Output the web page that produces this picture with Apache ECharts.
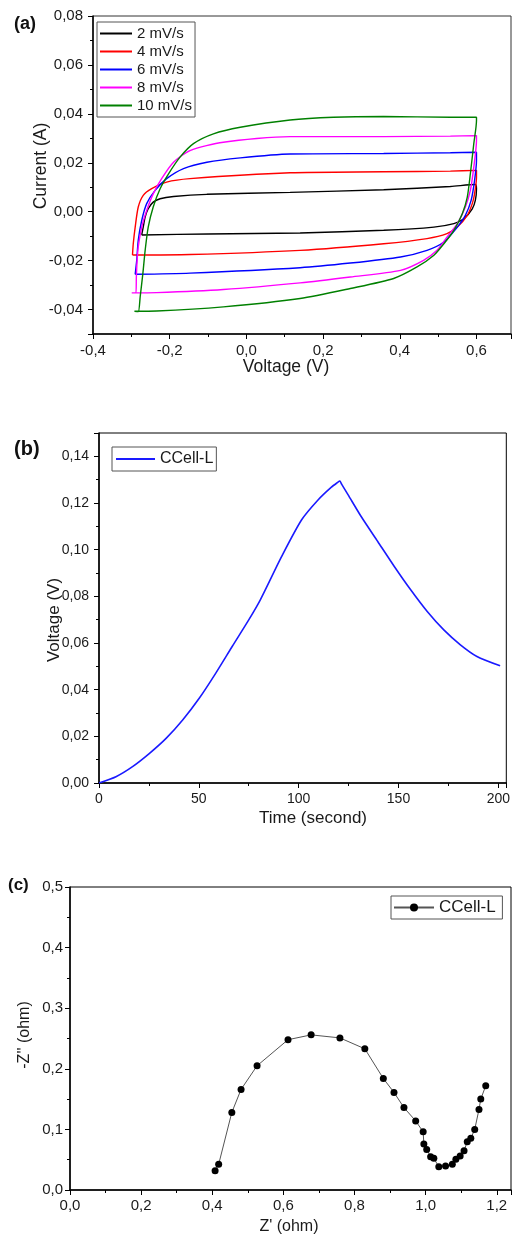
<!DOCTYPE html>
<html>
<head>
<meta charset="utf-8">
<script src="https://cdn.jsdelivr.net/npm/echarts@6/dist/echarts.min.js"></script>
<style>
html,body{margin:0;padding:0;background:#fff;}
#chart{width:513px;height:1236px;}
</style>
</head>
<body>
<div id="chart"></div>
<script>
// ---- (a) Cyclic voltammetry: voltage (V) / current (A) per scan rate ----
const cvNames = ['2 mV/s', '4 mV/s', '6 mV/s', '8 mV/s', '10 mV/s'];
const cv2V = [-0.273,-0.269,-0.264,-0.256,-0.243,-0.225,-0.190,-0.103,0.114,0.358,0.532,0.597,0.600,0.597,0.589,0.567,0.541,0.489,0.358,0.140,-0.100,-0.273];
const cv2I = [-0.0095,-0.0063,-0.0022,0.0012,0.0039,0.0053,0.0062,0.0071,0.0079,0.0090,0.0103,0.0111,0.0094,0.0046,0.0012,-0.0029,-0.0049,-0.0063,-0.0076,-0.0087,-0.0091,-0.0095];
const cv4V = [-0.297,-0.295,-0.290,-0.282,-0.269,-0.247,-0.208,-0.147,0.114,0.358,0.532,0.600,0.600,0.595,0.589,0.576,0.550,0.523,0.471,0.358,0.140,-0.147,-0.297];
const cv4I = [-0.0177,-0.0131,-0.0063,0.0019,0.0067,0.0094,0.0121,0.0135,0.0159,0.0163,0.0166,0.0169,0.0141,0.0073,0.0033,-0.0015,-0.0063,-0.0090,-0.0110,-0.0131,-0.0158,-0.0175,-0.0177];
const cv6V = [-0.290,-0.286,-0.282,-0.273,-0.260,-0.238,-0.208,-0.164,-0.103,-0.016,0.114,0.358,0.532,0.600,0.600,0.595,0.586,0.571,0.550,0.515,0.471,0.402,0.271,0.140,-0.147,-0.290];
const cv6I = [-0.0256,-0.0199,-0.0117,-0.0036,0.0033,0.0087,0.0135,0.0176,0.0202,0.0220,0.0236,0.0238,0.0241,0.0243,0.0209,0.0128,0.0046,-0.0015,-0.0063,-0.0124,-0.0158,-0.0185,-0.0210,-0.0229,-0.0251,-0.0256];
const cv8V = [-0.299,-0.288,-0.287,-0.285,-0.282,-0.273,-0.260,-0.243,-0.221,-0.190,-0.147,-0.060,0.114,0.358,0.532,0.600,0.600,0.593,0.584,0.571,0.550,0.523,0.497,0.462,0.402,0.271,0.140,-0.060,-0.234,-0.299];
const cv8I = [-0.0332,-0.0332,-0.0270,-0.0200,-0.0144,-0.0063,0.0005,0.0073,0.0135,0.0202,0.0250,0.0284,0.0307,0.0307,0.0309,0.0311,0.0291,0.0182,0.0087,0.0019,-0.0049,-0.0104,-0.0158,-0.0199,-0.0240,-0.0267,-0.0291,-0.0318,-0.0331,-0.0332];
const cv10V = [-0.292,-0.282,-0.277,-0.270,-0.264,-0.256,-0.243,-0.225,-0.203,-0.173,-0.138,-0.086,-0.016,0.114,0.227,0.358,0.532,0.600,0.600,0.593,0.584,0.576,0.563,0.541,0.515,0.489,0.445,0.384,0.271,0.140,-0.060,-0.234,-0.292];
const cv10I = [-0.0407,-0.0408,-0.0348,-0.0253,-0.0158,-0.0063,0.0019,0.0094,0.0155,0.0223,0.0278,0.0318,0.0345,0.0375,0.0386,0.0389,0.0386,0.0386,0.0373,0.0278,0.0155,0.0060,-0.0008,-0.0076,-0.0131,-0.0178,-0.0226,-0.0273,-0.0314,-0.0355,-0.0389,-0.0406,-0.0407];
const cvColors = ['#000000', '#ff0000', '#0000ff', '#ff00ff', '#008000'];

// ---- (b) Galvanostatic charge/discharge ----
const gcdName = 'CCell-L';
const gcdTime = [0, 8.5, 16.8, 25.3, 33.6, 41.9, 50.2, 58.5, 66.7, 75, 80.8, 91.5, 101.5, 109.8, 116.4, 119.5, 120.6, 121.5, 124.7, 131.3, 139.6, 147.9, 156.1, 164.4, 172.7, 181.0, 189.3, 200.9];
const gcdVolt = [0, 0.0027, 0.0070, 0.0127, 0.0191, 0.0270, 0.0363, 0.0471, 0.0585, 0.0699, 0.0785, 0.0971, 0.1128, 0.1214, 0.1268, 0.1288, 0.1294, 0.1281, 0.1236, 0.1142, 0.1035, 0.0928, 0.0828, 0.0735, 0.0656, 0.0592, 0.0542, 0.0502];

// ---- (c) Nyquist plot ----
const eisName = 'CCell-L';
const eisRe = [0.408,0.418,0.455,0.481,0.526,0.613,0.678,0.759,0.829,0.881,0.911,0.939,0.972,0.993,0.995,1.003,1.014,1.023,1.037,1.056,1.075,1.085,1.097,1.108,1.117,1.127,1.138,1.150,1.155,1.169];
const eisIm = [0.0319,0.0424,0.128,0.166,0.205,0.248,0.256,0.251,0.233,0.184,0.161,0.136,0.114,0.096,0.0758,0.0670,0.0549,0.0522,0.0384,0.0396,0.0423,0.0506,0.0560,0.0648,0.0796,0.0852,0.100,0.133,0.150,0.172];

const zip = (a, b) => a.map((v, i) => [v, b[i]]);
const cvData = [zip(cv2V, cv2I), zip(cv4V, cv4I), zip(cv6V, cv6I), zip(cv8V, cv8I), zip(cv10V, cv10I)];

const FONT = '"Liberation Sans", Arial, sans-serif';
const fmt = d => v => v.toFixed(d).replace('.', ',').replace('-0,' + '0'.repeat(d), '0,' + '0'.repeat(d));

function axis(o) {
  return Object.assign({
    type: 'value',
    splitLine: { show: false },
    axisLine: { show: true, onZero: false, lineStyle: { color: '#000', width: 1.5 } },
    axisTick: { show: true, inside: false, length: 5, lineStyle: { color: '#000', width: 1 } },
    minorTick: { show: true, splitNumber: 2, length: 3, lineStyle: { color: '#000', width: 1 } },
  }, o);
}
function lbl(d, size, margin, extra) {
  return Object.assign({ formatter: fmt(d), color: '#1a1a1a', fontSize: size, fontFamily: FONT, margin: margin }, extra || {});
}

const chart = echarts.init(document.getElementById('chart'), null, { renderer: 'canvas' });

const option = {
  backgroundColor: '#fff',
  animation: false,
  textStyle: { fontFamily: FONT },
  grid: [
    { left: 93, top: 16, width: 418, height: 318, show: true, borderColor: '#333', borderWidth: 1, containLabel: false },
    { left: 99, top: 433, width: 411, height: 350, show: true, borderColor: '#000', borderWidth: 1, containLabel: false },
    { left: 70, top: 887, width: 441, height: 303, show: true, borderColor: '#000', borderWidth: 1, containLabel: false }
  ],
  xAxis: [
    axis({ gridIndex: 0, min: -0.4, max: 0.69, minInterval: 0.2, maxInterval: 0.2,
      axisLabel: lbl(1, 15, 9, { showMaxLabel: false }) }),
    axis({ gridIndex: 1, min: 0, max: 204, minInterval: 50, maxInterval: 50,
      axisLabel: lbl(0, 14, 9, { showMaxLabel: false }) }),
    axis({ gridIndex: 2, min: 0, max: 1.24, minInterval: 0.2, maxInterval: 0.2,
      axisLabel: lbl(1, 15, 8, { showMaxLabel: false }) })
  ],
  yAxis: [
    axis({ gridIndex: 0, min: -0.05, max: 0.08, minInterval: 0.02, maxInterval: 0.02,
      axisLabel: lbl(2, 15, 10, { showMinLabel: false }) }),
    axis({ gridIndex: 1, min: 0, max: 0.15, minInterval: 0.02, maxInterval: 0.02,
      axisLabel: lbl(2, 14, 10, { showMaxLabel: false }) }),
    axis({ gridIndex: 2, min: 0, max: 0.5, minInterval: 0.1, maxInterval: 0.1,
      axisLabel: lbl(1, 15, 7) })
  ],
  legend: [
    { data: cvNames, orient: 'vertical', left: 97, top: 22, itemWidth: 32, itemHeight: 14, itemGap: 3,
      padding: [4, 3, 4, 2], borderColor: '#555', borderWidth: 1, backgroundColor: '#fff',
      itemStyle: { opacity: 0 },
      textStyle: { fontSize: 15, color: '#1a1a1a', fontFamily: FONT, padding: [0, 0, 0, 0] } },
    { data: [gcdName], left: 112, top: 447, itemWidth: 39, itemHeight: 16,
      padding: [4, 3, 4, 3], borderColor: '#555', borderWidth: 1,
      itemStyle: { opacity: 0 },
      textStyle: { fontSize: 16, color: '#1a1a1a', fontFamily: FONT } },
    { data: [{ name: eisName + ' ' }], left: 391, top: 896, itemWidth: 40, itemHeight: 10,
      padding: [3, 2, 3, 2], borderColor: '#555', borderWidth: 1,
      textStyle: { fontSize: 17, color: '#1a1a1a', fontFamily: FONT } }
  ],
  series: [
    ...cvData.map((d, i) => ({
      type: 'line', name: cvNames[i], xAxisIndex: 0, yAxisIndex: 0, data: d,
      showSymbol: false, symbol: 'none', smooth: 0.25,
      lineStyle: { color: cvColors[i], width: 1.4 }, itemStyle: { color: cvColors[i] }
    })),
    { type: 'line', name: gcdName, xAxisIndex: 1, yAxisIndex: 1, data: zip(gcdTime, gcdVolt),
      symbol: 'none', showSymbol: false, smooth: 0.25,
      lineStyle: { color: '#1a1aff', width: 1.6 }, itemStyle: { color: '#1a1aff' } },
    { type: 'line', name: eisName + ' ', xAxisIndex: 2, yAxisIndex: 2, data: zip(eisRe, eisIm),
      symbol: 'circle', symbolSize: 7, showSymbol: true,
      lineStyle: { color: '#555', width: 1 }, itemStyle: { color: '#000', borderWidth: 0 } }
  ],
  graphic: [
    { type: 'text', left: 14, top: 15, style: { text: '(a)', font: 'bold 18px ' + FONT, fill: '#111' } },
    { type: 'text', left: 14, top: 439, style: { text: '(b)', font: 'bold 20px ' + FONT, fill: '#111' } },
    { type: 'text', left: 8, top: 877, style: { text: '(c)', font: 'bold 17px ' + FONT, fill: '#111' } },
    { type: 'text', x: 286, y: 367, style: { text: 'Voltage (V)', font: '17.5px ' + FONT, fill: '#1a1a1a', align: 'center', verticalAlign: 'middle' } },
    { type: 'text', x: 41, y: 166, rotation: Math.PI / 2, style: { text: 'Current (A)', font: '17.5px ' + FONT, fill: '#1a1a1a', align: 'center', verticalAlign: 'middle' } },
    { type: 'text', x: 313, y: 818, style: { text: 'Time (second)', font: '17px ' + FONT, fill: '#1a1a1a', align: 'center', verticalAlign: 'middle' } },
    { type: 'text', x: 54, y: 620, rotation: Math.PI / 2, style: { text: 'Voltage (V)', font: '17px ' + FONT, fill: '#1a1a1a', align: 'center', verticalAlign: 'middle' } },
    { type: 'text', x: 289, y: 1227, style: { text: "Z' (ohm)", font: '16px ' + FONT, fill: '#1a1a1a', align: 'center', verticalAlign: 'middle' } },
    { type: 'text', x: 25, y: 1035, rotation: Math.PI / 2, style: { text: "-Z'' (ohm)", font: '16px ' + FONT, fill: '#1a1a1a', align: 'center', verticalAlign: 'middle' } }
  ]
};
chart.setOption(option);
</script>
</body>
</html>
